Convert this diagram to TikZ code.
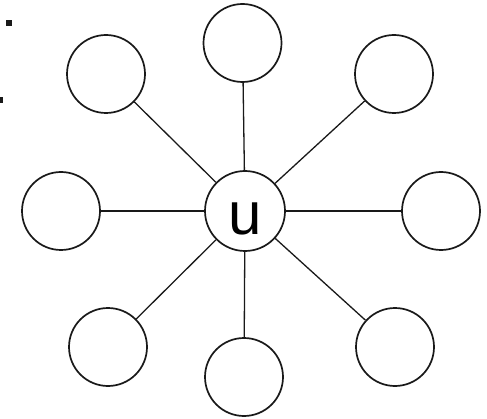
\documentclass[tikz,border=0pt]{standalone}
\usepackage{fontspec}
\setmainfont{Liberation Sans}
\begin{document}
\begin{tikzpicture}[x=1pt,y=1pt,
  vert/.style={circle,draw=black!90,line width=1.7pt,minimum size=78pt,inner sep=0pt,fill=white},
  edge/.style={line width=1.3pt,draw=black!90},
  mark sq/.style={fill=black!90}]
\useasboundingbox (0,0) rectangle (487,418);
% top-left marks
\fill[mark sq] (6,392) rectangle (12,398);
\fill[mark sq] (0,315) rectangle (3,321);
% nodes
\node[vert,minimum size=80pt,text height=48pt,text depth=0pt,font=\fontsize{60}{60}\selectfont] (u) at (245,207) {u};
\node[vert] (t)  at (242.5,375) {};
\node[vert] (tl) at (106,344) {};
\node[vert] (tr) at (394,344) {};
\node[vert] (l)  at (61,207) {};
\node[vert] (r)  at (441,207) {};
\node[vert] (bl) at (108,71) {};
\node[vert] (b)  at (244,41) {};
\node[vert] (br) at (395,71) {};
% edges
\foreach \n in {t,tl,tr,l,r,bl,b,br}
  \draw[edge] (u) -- (\n);
\end{tikzpicture}
\end{document}
